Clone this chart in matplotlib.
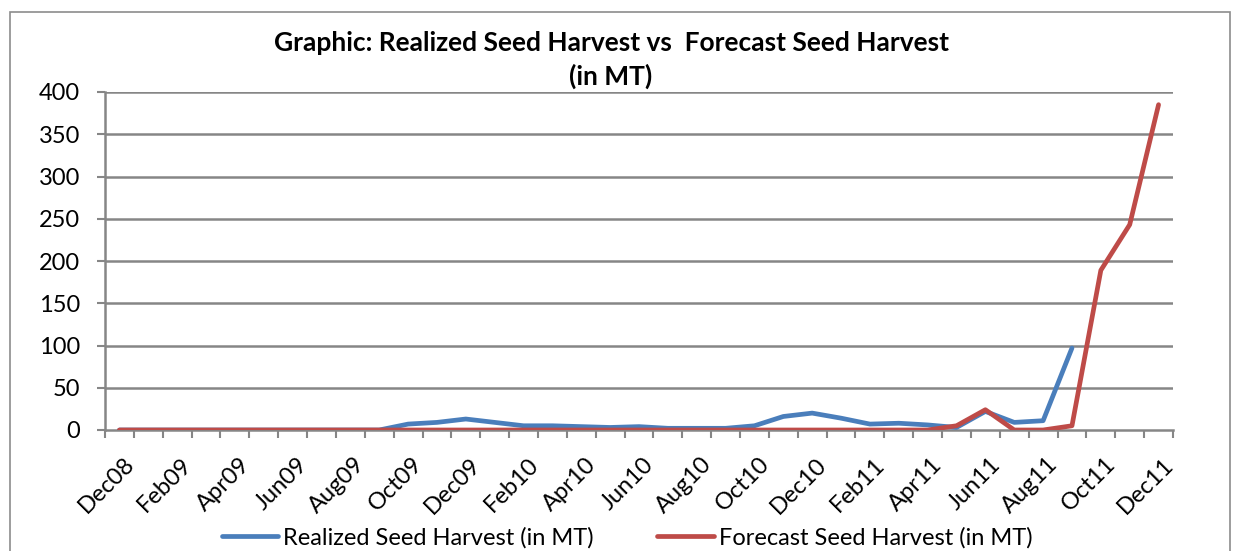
import matplotlib
matplotlib.use("Agg")
import matplotlib.pyplot as plt
import matplotlib.transforms as mtransforms
import numpy as np
from matplotlib.patches import Rectangle

months = ["Dec08", "Jan09", "Feb09", "Mar09", "Apr09", "May09", "Jun09", "Jul09", "Aug09", "Sep09",
          "Oct09", "Nov09", "Dec09", "Jan10", "Feb10", "Mar10", "Apr10", "May10", "Jun10", "Jul10",
          "Aug10", "Sep10", "Oct10", "Nov10", "Dec10", "Jan11", "Feb11", "Mar11", "Apr11", "May11",
          "Jun11", "Jul11", "Aug11", "Sep11", "Oct11", "Nov11", "Dec11"]

realized = [0, 0, 0, 0, 0, 0, 0, 0, 0, 0,
            7, 9, 13, 9, 5, 5, 4, 3, 4, 2,
            2, 2, 5, 16, 20, 14, 7, 8, 6, 3,
            22, 9, 11, 97, np.nan, np.nan, np.nan]

forecast = [0, 0, 0, 0, 0, 0, 0, 0, 0, 0,
            0, 0, 0, 0, 0, 0, 0, 0, 0, 0,
            0, 0, 0, 0, 0, 0, 0, 0, 0, 5,
            24, 0, 0, 5, 189, 243, 385]

title_1 = "Graphic: Realized Seed Harvest vs  Forecast Seed Harvest"
title_2 = "(in MT)"
yticks = [0, 50, 100, 150, 200, 250, 300, 350, 400]

plt.rcParams['font.family'] = ['Lato', 'DejaVu Sans']

W, H = 1234, 551
fig = plt.figure(figsize=(W / 100, H / 100), dpi=100)
ax = fig.add_axes([105 / W, 1 - 430 / H, (1173 - 105) / W, (430 - 92) / H])

# outer chart border
fig.patches.append(Rectangle((10 / W, -0.01), (1230 - 10) / W, 1 - 12 / H + 0.01,
                             transform=fig.transFigure, fill=False,
                             edgecolor="#8c8c8c", linewidth=1.2))

x = np.arange(len(months))
grid_c = "#868686"
ax.plot(x, realized, color="#4A7EBB", linewidth=3.4, solid_capstyle="round",
        solid_joinstyle="round", label="Realized Seed Harvest (in MT)", zorder=3)
ax.plot(x, forecast, color="#BE4B48", linewidth=3.4, solid_capstyle="round",
        solid_joinstyle="round", label="Forecast Seed Harvest (in MT)", zorder=4)

ax.set_xlim(-0.5, len(months) - 0.5)
ax.set_ylim(0, 400)
ax.set_yticks(yticks)
ax.set_yticklabels([str(v) for v in yticks], fontsize=17)
for v in yticks[1:]:
    ax.axhline(v, color=grid_c, linewidth=1.8, zorder=1)

ax.set_xticks(x[::2])
ax.set_xticklabels(months[::2], rotation=45, ha="right", rotation_mode="anchor", fontsize=17)
ax.tick_params(axis="x", which="major", length=0, pad=17)
shift = mtransforms.ScaledTranslation(4 / 100, 0, fig.dpi_scale_trans)
for lab in ax.get_xticklabels():
    lab.set_transform(lab.get_transform() + shift)
ax.set_xticks(np.arange(-0.5, len(months), 1), minor=True)
ax.tick_params(axis="x", which="minor", length=6, width=1.5, color=grid_c, direction="out")
ax.tick_params(axis="y", length=5.8, width=1.5, color=grid_c, direction="out", pad=12)

for s in ["top", "right"]:
    ax.spines[s].set_visible(False)
for s in ["left", "bottom"]:
    ax.spines[s].set_color(grid_c)
    ax.spines[s].set_linewidth(1.8)

fig.text(611 / W, 1 - 43 / H, title_1, ha="center", va="center", fontsize=19, fontweight="bold")
fig.text(611 / W, 1 - 76 / H, title_2, ha="center", va="center", fontsize=19, fontweight="bold")

leg = fig.legend(loc="center", bbox_to_anchor=(627 / W, 1 - 538 / H), ncol=2, frameon=False,
                 fontsize=17, handlelength=2.4, handletextpad=0.2, columnspacing=2.7)

fig.savefig("out.png", dpi=100)
